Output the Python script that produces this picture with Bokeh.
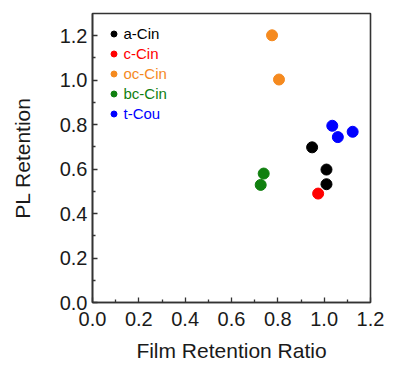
from bokeh.plotting import figure
from bokeh.models import Legend, LegendItem, Range1d, ColumnDataSource, FixedTicker, CustomJSTickFormatter
from bokeh.embed import file_html
from bokeh.resources import INLINE

# ---- data ----
series_names = ["a-Cin", "c-Cin", "oc-Cin", "bc-Cin", "t-Cou"]
series_colors = ["#000000", "#ff0000", "#f58a1f", "#10800f", "#0000ff"]
a_cin_x = [0.948, 1.010, 1.010]
a_cin_y = [0.698, 0.598, 0.532]
c_cin_x = [0.974]
c_cin_y = [0.490]
oc_cin_x = [0.775, 0.805]
oc_cin_y = [1.202, 1.003]
bc_cin_x = [0.739, 0.726]
bc_cin_y = [0.580, 0.529]
t_cou_x = [1.035, 1.059, 1.123]
t_cou_y = [0.795, 0.744, 0.768]
series_x = [a_cin_x, c_cin_x, oc_cin_x, bc_cin_x, t_cou_x]
series_y = [a_cin_y, c_cin_y, oc_cin_y, bc_cin_y, t_cou_y]
x_ticks = [0.0, 0.2, 0.4, 0.6, 0.8, 1.0, 1.2]
y_ticks = [0.0, 0.2, 0.4, 0.6, 0.8, 1.0, 1.2]
minor_ticks = [0.1, 0.3, 0.5, 0.7, 0.9, 1.1]

FONT = "Liberation Sans"
AX = "#333333"
FRAME_H = 289

p = figure(frame_width=278, frame_height=FRAME_H, output_backend="svg", toolbar_location=None,
           x_range=Range1d(0, 1.2), y_range=Range1d(0, 1.3),
           min_border_left=92, min_border_right=15, min_border_top=13, min_border_bottom=55)
p.grid.visible = False
p.outline_line_color = AX
p.outline_line_width = 1.6
p.background_fill_color = "white"
p.border_fill_color = "white"

for ax in (p.xaxis[0], p.yaxis[0]):
    ax.axis_line_color = AX
    ax.axis_line_width = 1.6
    ax.major_tick_in = 5
    ax.major_tick_out = 0
    ax.minor_tick_in = 3
    ax.minor_tick_out = 0
    ax.major_tick_line_color = AX
    ax.minor_tick_line_color = AX
    ax.major_tick_line_width = 1.3
    ax.minor_tick_line_width = 1.3
    ax.major_label_text_font = FONT
    ax.major_label_text_font_size = "20px"
    ax.major_label_text_color = "#1a1a1a"
    ax.axis_label_text_font = FONT
    ax.axis_label_text_font_size = "21px"
    ax.axis_label_text_font_style = "normal"
    ax.axis_label_text_color = "#1a1a1a"
    ax.formatter = CustomJSTickFormatter(code="return tick.toFixed(1);")

p.xaxis.ticker = FixedTicker(ticks=x_ticks, minor_ticks=minor_ticks)
p.yaxis.ticker = FixedTicker(ticks=y_ticks, minor_ticks=minor_ticks)
p.xaxis.axis_label = "Film Retention Ratio"
p.yaxis.axis_label = "PL Retention"
p.xaxis.major_label_standoff = 9
p.yaxis.major_label_standoff = 5
p.xaxis.axis_label_standoff = 10
p.yaxis.axis_label_standoff = 23

renderers = []
for name, col, xs, ys in zip(series_names, series_colors, series_x, series_y):
    src = ColumnDataSource(dict(x=xs, y=ys))
    r = p.scatter("x", "y", source=src, size=11, marker="circle",
                  fill_color=col, line_color=col)
    renderers.append(r)

# one legend per entry so each label can take its series colour
for i, (name, col, r) in enumerate(zip(series_names, series_colors, renderers)):
    center_from_top = 21.5 + 20.0 * i
    vy = FRAME_H - (center_from_top + 7.5)
    lg = Legend(items=[LegendItem(label=name, renderers=[r])],
                location=(13.5, vy), padding=0, margin=0, spacing=0,
                glyph_width=15, glyph_height=15, label_height=15, label_standoff=3,
                label_text_font=FONT, label_text_font_size="15px",
                label_text_color=col, background_fill_alpha=0, border_line_alpha=0)
    p.add_layout(lg)

open("out.html", "w").write(file_html(p, INLINE))
